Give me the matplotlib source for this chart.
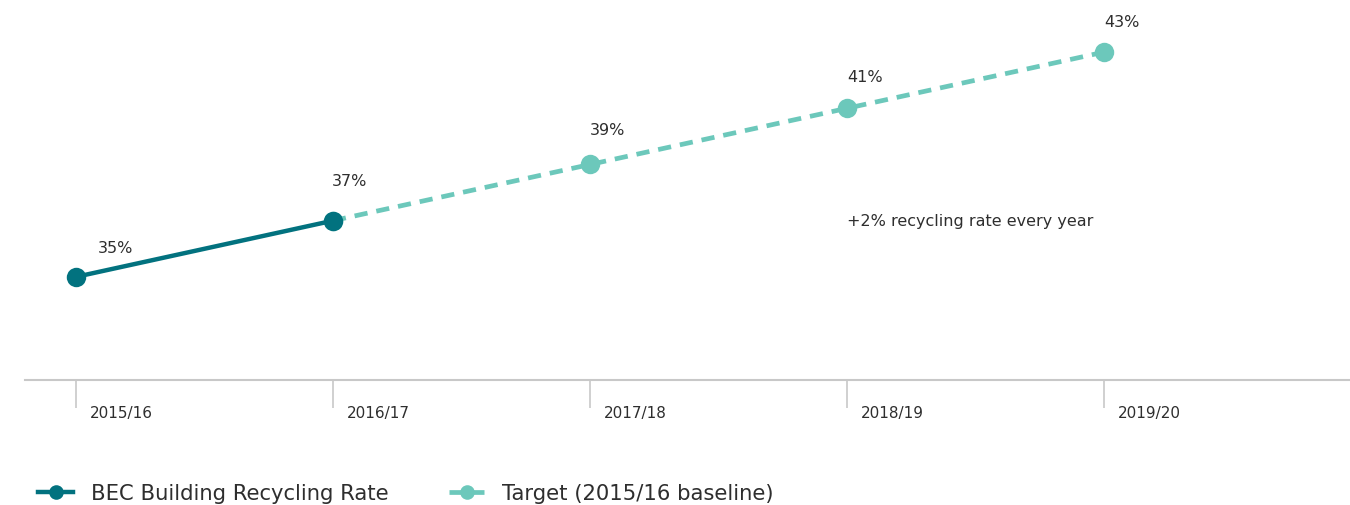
import numpy as np
import matplotlib.pyplot as plt
from matplotlib.transforms import blended_transform_factory

# Data
years = ["2015/16", "2016/17", "2017/18", "2018/19", "2019/20"]
actual_years = ["2015/16", "2016/17"]
actual_rate = [35, 37]
target_years = ["2016/17", "2017/18", "2018/19", "2019/20"]
target_rate = [37, 39, 41, 43]
point_labels = ["35%", "37%", "39%", "41%", "43%"]
point_values = [35, 37, 39, 41, 43]

dark = "#02727f"
light = "#6cc8bb"
text_col = "#2e2e2e"
axis_col = "#c8c8c8"

plt.rcParams["font.family"] = ["DejaVu Sans"]

fig = plt.figure(figsize=(13.5, 5.06), dpi=100)
ax = fig.add_axes([25 / 1350, 1 - 381 / 506, 1 - 25 / 1350, 381 / 506])

xi = {y: i for i, y in enumerate(years)}

ax.plot([xi[y] for y in target_years], target_rate, color=light, lw=3.4,
        dashes=(2.8, 1.9), marker="o", markersize=14, markeredgewidth=0,
        label="Target (2015/16 baseline)", zorder=2)
ax.plot([xi[y] for y in actual_years], actual_rate, color=dark, lw=3.2,
        marker="o", markersize=14, markeredgewidth=0,
        label="BEC Building Recycling Rate", zorder=3)

# value labels
offsets = [(16, 21), (-1, 29), (0, 25), (0, 23), (0, 22)]
for i, (lab, v) in enumerate(zip(point_labels, point_values)):
    ax.annotate(lab, (i, v), xytext=offsets[i], textcoords="offset points",
                ha="left", va="center", fontsize=11.5, color=text_col)

ax.text(xi["2018/19"], 37.0, "+2% recycling rate every year", fontsize=11.5,
        color=text_col, ha="left", va="center")

ax.set_xlim(-0.198, 4.957)
ax.set_ylim(31.33, 44.89)

for s in ["top", "right", "left"]:
    ax.spines[s].set_visible(False)
ax.spines["bottom"].set_color(axis_col)
ax.spines["bottom"].set_linewidth(1.5)
ax.set_yticks([])
ax.set_xticks(range(len(years)))
ax.set_xticklabels([])
ax.tick_params(axis="x", direction="out", length=20, width=1.2, color=axis_col)

trans = blended_transform_factory(ax.transData, ax.transAxes)
for i, y in enumerate(years):
    ax.text(i + 0.053, -0.085, y, transform=trans, ha="left", va="center",
            fontsize=11, color=text_col)

handles, labels = ax.get_legend_handles_labels()
fig.legend(handles[::-1], labels[::-1], loc="center left",
           bbox_to_anchor=(19 / 1350, 1 - 494 / 506), ncol=2, frameon=False,
           fontsize=15.2, handlelength=1.67, columnspacing=2.85,
           handletextpad=0.85, labelcolor=text_col, markerscale=0.75)

fig.savefig("out.png", dpi=100)
